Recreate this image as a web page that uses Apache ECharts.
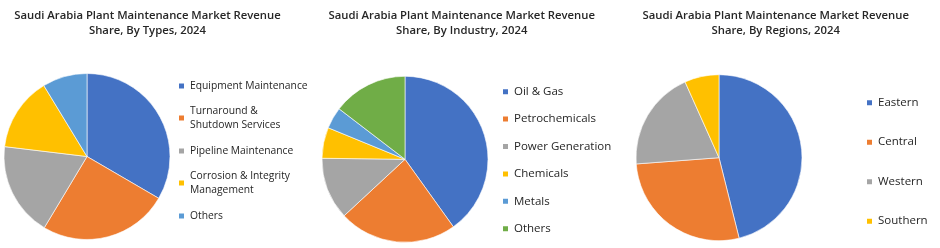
<!DOCTYPE html>
<html><head><meta charset="utf-8">
<script src="https://cdn.jsdelivr.net/npm/echarts@6/dist/echarts.min.js"></script>
<style>html,body{margin:0;padding:0;background:#fff}#c{width:940px;height:248px}</style>
</head><body><div id="c"></div>
<script>
const titleTexts = [
  'Saudi Arabia Plant Maintenance Market Revenue\nShare, By Types, 2024',
  'Saudi Arabia Plant Maintenance Market Revenue\nShare, By Industry, 2024',
  'Saudi Arabia Plant Maintenance Market Revenue\nShare, By Regions, 2024'
];
const typeNames = ['Equipment Maintenance', 'Turnaround & Shutdown Services', 'Pipeline Maintenance', 'Corrosion & Integrity Management', 'Others'];
const typeLabels = ['Equipment Maintenance', 'Turnaround &\nShutdown Services', 'Pipeline Maintenance', 'Corrosion & Integrity\nManagement', 'Others'];
const typeValues = [33.4, 25.2, 18.3, 14.4, 8.7];
const industryNames = ['Oil & Gas', 'Petrochemicals', 'Power Generation', 'Chemicals', 'Metals', 'Others '];
const industryLabels = ['Oil & Gas', 'Petrochemicals', 'Power Generation', 'Chemicals', 'Metals', 'Others'];
const industryValues = [40.1, 23.0, 12.1, 6.0, 4.2, 14.6];
const regionNames = ['Eastern', 'Central', 'Western', 'Southern'];
const regionValues = [46.1, 27.7, 19.5, 6.7];

const C = { blue: '#4472C4', orange: '#ED7D31', gray: '#A5A5A5', yellow: '#FFC000', lblue: '#5B9BD5', green: '#70AD47' };
const typeColors = [C.blue, C.orange, C.gray, C.yellow, C.lblue];
const industryColors = [C.blue, C.orange, C.gray, C.yellow, C.lblue, C.green];
const regionColors = [C.blue, C.orange, C.gray, C.yellow];

const FONT = '"Open Sans", "Segoe UI", sans-serif';
const chart = echarts.init(document.getElementById('c'), null, { renderer: 'canvas' });

function mkTitle(text, cx) {
  return {
    text: text, left: cx, top: 8, textAlign: 'center', padding: 0,
    textStyle: { fontFamily: FONT, fontSize: 11.3, fontWeight: 600, color: '#262626', lineHeight: 15.5 }
  };
}
function mkSeries(names, values, colors, cx, cy) {
  return {
    type: 'pie', center: [cx, cy], radius: 83, startAngle: 90, clockwise: true,
    label: { show: false }, labelLine: { show: false }, silent: true,
    itemStyle: { borderColor: '#ffffff', borderWidth: 0.6 },
    data: names.map((n, i) => ({ name: n, value: values[i], itemStyle: { color: colors[i] } }))
  };
}
const legendText = { fontFamily: FONT, fontSize: 11.5, color: '#262626', lineHeight: 14 };
const smallLegendText = { fontFamily: FONT, fontSize: 10.3, color: '#262626', lineHeight: 14 };

// Panel 1 legends (one per item so wrapped labels keep the marker on their first line)
const typeLegendY = [86, 118, 151, 183, 216];
const legends = typeNames.map((n, i) => {
  const two = typeLabels[i].indexOf('\n') >= 0;
  return {
    data: [n], left: 177, top: two ? typeLegendY[i] - 21 : typeLegendY[i] - 7,
    orient: 'vertical', padding: 0, itemWidth: 7, itemHeight: 7, icon: 'rect', itemGap: 0,
    selectedMode: false,
    formatter: () => typeLabels[i],
    textStyle: Object.assign({}, smallLegendText, two ? { padding: [14, 0, 0, 0] } : {})
  };
});
legends.push({
  data: industryNames, left: 501, top: 84.7, orient: 'vertical', padding: 0,
  itemWidth: 7, itemHeight: 7, icon: 'rect', itemGap: 13.4, selectedMode: false,
  formatter: (n) => industryLabels[industryNames.indexOf(n)], textStyle: legendText
});
legends.push({
  data: regionNames, left: 865, top: 95.7, orient: 'vertical', padding: 0,
  itemWidth: 7, itemHeight: 7, icon: 'rect', itemGap: 25.5, selectedMode: false,
  textStyle: legendText
});

chart.setOption({
  backgroundColor: '#ffffff',
  animation: false,
  title: [mkTitle(titleTexts[0], 147.5), mkTitle(titleTexts[1], 461.7), mkTitle(titleTexts[2], 775.7)],
  legend: legends,
  series: [
    mkSeries(typeNames, typeValues, typeColors, 87, 156.5),
    mkSeries(industryNames, industryValues, industryColors, 405, 159.3),
    mkSeries(regionNames, regionValues, regionColors, 719, 157.7)
  ]
});
</script>
</body></html>
